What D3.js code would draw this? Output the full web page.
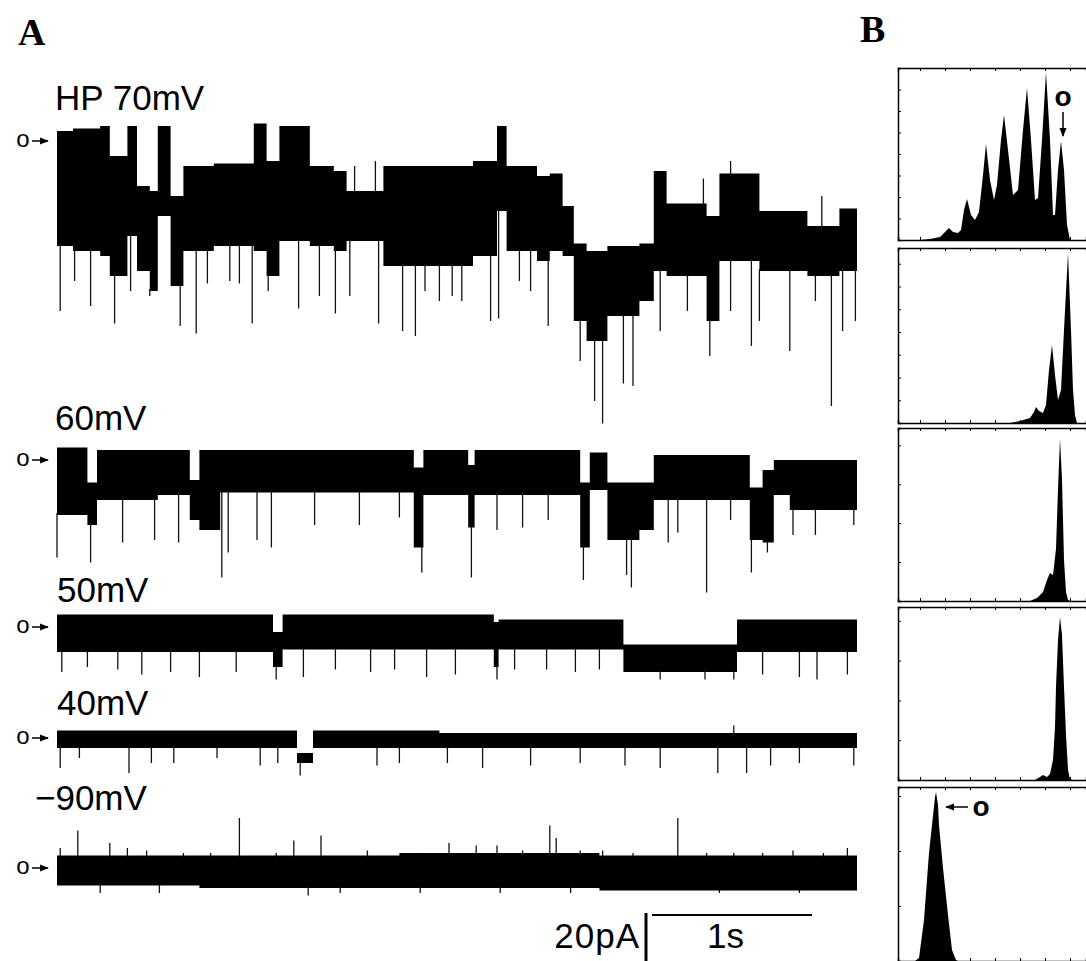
<!DOCTYPE html>
<html>
<head>
<meta charset="utf-8">
<script src="https://cdnjs.cloudflare.com/ajax/libs/d3/7.8.5/d3.min.js"></script>
<style>
  body { margin: 0; background: #fff; }
  .lbl { font-family: "Liberation Sans", Arial, sans-serif; font-size: 35px; }
  .panel { font-family: "Liberation Serif", "Times New Roman", serif; font-weight: bold; font-size: 38px; }
</style>
</head>
<body>
<div class="fig"></div>
<script>
/* Single channel records (A) and amplitude histograms (B) */

// ---- traces: time (s), upper / lower edge of the dense band (pA, 0 = open level "o")
var t70 = [0, 0.10, 0.27, 0.33, 0.44, 0.50, 0.58, 0.63, 0.71, 0.79, 0.98, 1.23, 1.31, 1.39, 1.58, 1.73, 1.81, 2.04, 2.25, 2.60, 2.75, 2.81, 3.00, 3.08, 3.16, 3.23, 3.31, 3.44, 3.64, 3.73, 3.81, 4.06, 4.14, 4.39, 4.69, 4.89, 5.0];
var hi70 = [4, 5, 6, -6, 6, -18, -20, 6, -22, -10, -9, 7, -8, 6, -10, -12, -20, -10, -10, -8, 6, -10, -14, -13, -26, -41, -44, -42, -41, -12, -25, -30, -13, -28, -34, -27, -27];
var lo70 = [-42, -44, -46, -54, -38, -52, -60, -30, -58, -44, -42, -44, -54, -40, -42, -44, -40, -50, -50, -46, -28, -44, -48, -44, -46, -72, -80, -70, -64, -52, -54, -72, -48, -52, -54, -52, -52];
var dn70T = [0.02, 0.11, 0.21, 0.36, 0.46, 0.58, 0.77, 0.87, 0.94, 1.08, 1.14, 1.22, 1.32, 1.51, 1.64, 1.74, 1.83, 2.01, 2.16, 2.24, 2.30, 2.39, 2.47, 2.53, 2.71, 2.76, 2.89, 2.96, 3.07, 3.27, 3.36, 3.41, 3.54, 3.60, 3.77, 3.94, 4.08, 4.21, 4.34, 4.39, 4.58, 4.74, 4.84, 4.91, 4.99];
var dn70V = [-68, -56, -66, -73, -60, -62, -74, -77, -57, -56, -57, -73, -60, -67, -62, -69, -62, -73, -76, -78, -60, -64, -62, -64, -72, -71, -56, -60, -74, -88, -104, -113, -97, -98, -76, -68, -86, -68, -82, -72, -84, -64, -106, -76, -72];
var up70T = [1.86, 1.99, 4.04, 4.21, 4.38, 4.78];
var up70V = [-10, -8, -15, -8, -14, -22];

var t60 = [0, 0.19, 0.25, 0.63, 0.83, 0.89, 1.02, 2.23, 2.29, 2.57, 2.61, 3.27, 3.33, 3.44, 3.64, 3.73, 4.33, 4.41, 4.48, 4.58, 5.0];
var hi60 = [5, -9, 4, 4, -8, 4, 4, -3, 4, -2, 4, -9, 3, -9, -9, 2, -11, -4, 0, 0, 0];
var lo60 = [-22, -26, -16, -14, -24, -28, -13, -35, -14, -27, -14, -35, -12, -32, -28, -16, -32, -33, -14, -20, -20];
var dn60T = [0.0, 0.21, 0.41, 0.61, 0.76, 1.03, 1.07, 1.25, 1.34, 1.61, 1.89, 2.14, 2.28, 2.59, 2.75, 2.91, 3.07, 3.29, 3.56, 3.59, 3.82, 3.88, 4.06, 4.21, 4.34, 4.44, 4.60, 4.74, 4.98];
var dn60V = [-39, -41, -33, -32, -33, -47, -37, -32, -35, -26, -26, -23, -45, -47, -28, -27, -24, -48, -46, -51, -33, -29, -53, -24, -45, -37, -30, -30, -26];

var t50 = [0, 1.35, 1.41, 2.73, 2.76, 3.54, 4.25, 5.0];
var hi50 = [5, -2, 5, 2, 3, -7, 3, 3];
var lo50 = [-10, -16, -9, -16, -9, -18, -10, -10];
var dn50T = [0.03, 0.19, 0.38, 0.53, 0.71, 0.89, 1.12, 1.37, 1.54, 1.74, 1.96, 2.11, 2.31, 2.49, 2.75, 2.86, 3.06, 3.24, 3.39, 3.77, 4.05, 4.23, 4.41, 4.64, 4.75, 4.94];
var dn50V = [-18, -16, -17, -19, -18, -20, -18, -21, -20, -17, -18, -17, -20, -19, -21, -17, -17, -18, -17, -21, -21, -21, -19, -20, -21, -19];

var t40 = [0, 1.5, 1.6, 2.39, 5.0];
var hi40 = [3, -6, 3, 2, 2];
var lo40 = [-4, -10, -4, -4, -4];
var dn40T = [0.02, 0.14, 0.45, 0.59, 0.73, 1.0, 1.27, 1.38, 1.52, 2.0, 2.14, 2.44, 2.66, 2.96, 3.27, 3.55, 3.77, 4.13, 4.31, 4.46, 4.64, 4.98];
var dn40V = [-12, -8, -14, -10, -10, -8, -11, -10, -15, -11, -10, -10, -12, -11, -10, -11, -12, -14, -14, -11, -10, -11];
var up40T = [4.23];
var up40V = [5];

var t90 = [0, 0.89, 2.14, 3.39, 5.0];
var hi90 = [5, 5, 6, 5, 5];
var lo90 = [-7, -8, -8, -9, -9];
var dn90T = [0.27, 0.64, 1.57, 1.77, 2.27, 2.77, 3.21, 4.14, 4.64];
var dn90V = [-10, -10, -11, -10, -10, -10, -10, -10, -10];
var up90T = [0.02, 0.13, 0.33, 0.44, 0.56, 0.79, 0.96, 1.14, 1.37, 1.48, 1.65, 1.94, 2.26, 2.45, 2.62, 2.75, 2.91, 3.08, 3.12, 3.27, 3.41, 3.60, 3.88, 4.06, 4.23, 4.41, 4.6, 4.79, 4.94];
var up90V = [8, 15, 10, 8, 7, 6, 6, 20, 6, 11, 13, 7, 6, 10, 9, 9, 7, 17, 12, 7, 7, 6, 20, 6, 6, 6, 7, 6, 8];

// ---- histograms: amplitude (pA) vs count (% of panel full scale)
var h70A = [-8.8, 0, 4, 8, 10.4, 11.6, 13.2, 15.2, 16.4, 17.6, 18.8, 20.4, 22, 23.6, 25.2, 26.4, 28, 29.6, 30.8, 32.4, 33.6, 35.2, 37.2, 39.2, 41.2, 42.8, 44.4, 46, 47.2, 48.8, 50.4, 52, 53.2, 54, 55.2, 56.4, 57.6, 58.8, 60, 66.4];
var h70C = [0, 0, 0.6, 1.7, 5.2, 7.0, 4.7, 4.1, 5.8, 17.4, 23.8, 14.5, 11.6, 16.3, 37.8, 55.8, 34.9, 23.3, 32.0, 58.1, 72.7, 52.3, 26.2, 29.1, 64.0, 88.4, 58.1, 23.3, 24.4, 58.1, 97.7, 58.1, 14.5, 14.5, 40.7, 57.6, 40.7, 8.7, 0, 0];
var h60A = [-8.8, 36, 40, 44, 45.6, 46.4, 47.6, 49.2, 50.4, 51.6, 52.8, 54, 55.2, 56.4, 57.6, 59.2, 60.4, 61.2, 62, 62.8, 66.4];
var h60C = [0, 0, 1.1, 2.9, 6.3, 9.1, 6.9, 5.7, 10.3, 30.3, 44.6, 27.4, 13.1, 18.9, 53.1, 97.1, 53.1, 18.9, 4.6, 0, 0];
var h50A = [-8.8, 44, 46.8, 49.2, 50.8, 52, 53.2, 54.4, 55.2, 56, 56.8, 57.6, 58.4, 59.2, 60, 66.4];
var h50C = [0, 0, 1.7, 5.2, 12.1, 16.2, 15.0, 30.1, 64.7, 93.6, 70.5, 23.7, 5.2, 0.6, 0, 0];
var h40A = [-8.8, 46, 48, 49.2, 50.8, 52, 53.2, 54, 54.4, 55.2, 56, 56.8, 57.6, 58.4, 59.2, 60, 60.8, 66.4];
var h40C = [0, 0, 1.7, 2.9, 1.7, 3.5, 11.6, 30.6, 53.8, 80.9, 94.2, 83.8, 53.8, 26.0, 5.8, 0.6, 0, 0];
var h90A = [-8.8, -2, -0.4, 1.6, 3.6, 4.8, 6, 6.4, 7.2, 7.6, 9.2, 11.2, 12.8, 14.4, 15.2, 66.4];
var h90C = [0, 0, 1.7, 23.6, 62.1, 78.2, 94.3, 97.1, 89.7, 78.2, 53.4, 26.4, 6.3, 0.6, 0, 0];

var svg = d3.select(".fig").append("svg")
    .attr("width", 1086)
    .attr("height", 961);

svg.append("defs").append("marker")
    .attr("id", "head")
    .attr("viewBox", "0 0 10 10")
    .attr("refX", 9).attr("refY", 5)
    .attr("markerWidth", 6).attr("markerHeight", 6)
    .attr("orient", "auto")
    .append("path").attr("d", "M0,1 L10,5 L0,9 Z").attr("fill", "#000");

svg.append("text").attr("class", "panel").attr("x", 18).attr("y", 45).text("A");
svg.append("text").attr("class", "panel").attr("x", 860).attr("y", 42).text("B");

// time axis shared by the traces
var xT = d3.scaleLinear().domain([0, 5]).range([57, 857]);

var traces = [
    {label: "HP 70mV", lx: 55, ly: 110, base: 141, t: t70, hi: hi70, lo: lo70, dnT: dn70T, dnV: dn70V, upT: up70T, upV: up70V},
    {label: "60mV", lx: 55, ly: 430, base: 460, t: t60, hi: hi60, lo: lo60, dnT: dn60T, dnV: dn60V, upT: [], upV: []},
    {label: "50mV", lx: 57, ly: 602, base: 627, t: t50, hi: hi50, lo: lo50, dnT: dn50T, dnV: dn50V, upT: [], upV: []},
    {label: "40mV", lx: 57, ly: 715, base: 738, t: t40, hi: hi40, lo: lo40, dnT: dn40T, dnV: dn40V, upT: up40T, upV: up40V},
    {label: "\u221290mV", lx: 35, ly: 810, base: 868, t: t90, hi: hi90, lo: lo90, dnT: dn90T, dnV: dn90V, upT: up90T, upV: up90V}
];

traces.forEach(function (tr) {
    // 2.5 px per pA
    var y = d3.scaleLinear().domain([0, 20]).range([tr.base, tr.base - 50]);
    var g = svg.append("g");

    g.append("text").attr("class", "lbl").attr("x", tr.lx).attr("y", tr.ly).text(tr.label);

    // open level marker
    g.append("text")
        .attr("x", 23).attr("y", tr.base + 6)
        .attr("text-anchor", "middle")
        .style("font-family", "Liberation Sans, Arial, sans-serif")
        .style("font-size", "24px")
        .text("o");
    g.append("line")
        .attr("x1", 32).attr("x2", 48)
        .attr("y1", tr.base).attr("y2", tr.base)
        .attr("stroke", "#000").attr("stroke-width", 1.5)
        .attr("marker-end", "url(#head)");

    var pts = tr.t.map(function (t, i) { return {t: t, hi: tr.hi[i], lo: tr.lo[i]}; });
    var area = d3.area()
        .x(function (d) { return xT(d.t); })
        .y0(function (d) { return y(d.lo); })
        .y1(function (d) { return y(d.hi); })
        .curve(d3.curveStepAfter);
    g.append("path").attr("d", area(pts)).attr("fill", "#000");

    function seg(t) {
        return Math.max(0, d3.bisectRight(tr.t, t) - 1);
    }

    g.selectAll("line.dn")
        .data(tr.dnT)
        .enter()
        .append("line")
        .attr("class", "dn")
        .attr("x1", function (t) { return xT(t); })
        .attr("x2", function (t) { return xT(t); })
        .attr("y1", function (t) { return y(tr.lo[seg(t)]) - 2; })
        .attr("y2", function (t, i) { return y(tr.dnV[i]); })
        .attr("stroke", "#111").attr("stroke-width", 1.3);

    g.selectAll("line.up")
        .data(tr.upT)
        .enter()
        .append("line")
        .attr("class", "up")
        .attr("x1", function (t) { return xT(t); })
        .attr("x2", function (t) { return xT(t); })
        .attr("y1", function (t) { return y(tr.hi[seg(t)]) + 2; })
        .attr("y2", function (t, i) { return y(tr.upV[i]); })
        .attr("stroke", "#111").attr("stroke-width", 1.3);
});

// scale bar: 20 pA, 1 s
var sbX = 652, sbY = 915;
svg.append("line")
    .attr("x1", sbX - 6).attr("x2", sbX - 6)
    .attr("y1", sbY - 2).attr("y2", sbY - 2 + 50)
    .attr("stroke", "#000").attr("stroke-width", 3);
svg.append("line")
    .attr("x1", sbX).attr("x2", sbX + (xT(1) - xT(0)))
    .attr("y1", sbY).attr("y2", sbY)
    .attr("stroke", "#000").attr("stroke-width", 2);
svg.append("text").attr("class", "lbl")
    .attr("x", 640).attr("y", 948)
    .attr("text-anchor", "end")
    .style("letter-spacing", "1px")
    .text("20pA");
svg.append("text").attr("class", "lbl")
    .attr("x", 707).attr("y", 948)
    .text("1s");

// ---- histograms
var hx = d3.scaleLinear().domain([-8.8, 66.4]).range([898, 1086]);

var hists = [
    {top: 68, bottom: 240, amp: h70A, cnt: h70C, step: 12.5},
    {top: 248, bottom: 423, amp: h60A, cnt: h60C, step: 13},
    {top: 428, bottom: 601, amp: h50A, cnt: h50C, step: 22.5},
    {top: 607, bottom: 780, amp: h40A, cnt: h40C, step: 23},
    {top: 787, bottom: 961, amp: h90A, cnt: h90C, step: 31.6}
];

hists.forEach(function (h) {
    var hy = d3.scaleLinear().domain([0, 100]).range([h.bottom, h.top]);
    var g = svg.append("g");

    var pts = h.amp.map(function (a, i) { return [a, h.cnt[i]]; });
    var area = d3.area()
        .x(function (d) { return hx(d[0]); })
        .y0(hy(0))
        .y1(function (d) { return hy(d[1]); });
    g.append("path").attr("d", area(pts)).attr("fill", "#000");

    var xTicks = d3.range(0, 61, 10);
    var yTicks = d3.range(h.step, 100, h.step);

    var axB = g.append("g")
        .attr("transform", "translate(0," + h.bottom + ")")
        .call(d3.axisBottom(hx).tickValues(xTicks).tickSize(-3).tickFormat(""));
    var axT = g.append("g")
        .attr("transform", "translate(0," + h.top + ")")
        .call(d3.axisTop(hx).tickValues(xTicks).tickSize(-3).tickFormat(""));
    var axL = g.append("g")
        .attr("transform", "translate(" + hx(-8.8) + ",0)")
        .call(d3.axisLeft(hy).tickValues(yTicks).tickSize(-3).tickFormat(""));
    [axB, axT, axL].forEach(function (ax) {
        ax.select(".domain").attr("stroke-width", 1.5);
        ax.selectAll(".tick line").attr("stroke-width", 1);
    });
});

// open level labels in B
svg.append("text")
    .attr("x", 1063).attr("y", 106)
    .attr("text-anchor", "middle")
    .style("font-family", "Liberation Sans, Arial, sans-serif")
    .style("font-weight", "bold").style("font-size", "28px")
    .text("o");
svg.append("line")
    .attr("x1", 1063).attr("x2", 1063)
    .attr("y1", 112).attr("y2", 136)
    .attr("stroke", "#000").attr("stroke-width", 1.5)
    .attr("marker-end", "url(#head)");
svg.append("text")
    .attr("x", 981).attr("y", 816)
    .attr("text-anchor", "middle")
    .style("font-family", "Liberation Sans, Arial, sans-serif")
    .style("font-weight", "bold").style("font-size", "28px")
    .text("o");
svg.append("line")
    .attr("x1", 968).attr("x2", 946)
    .attr("y1", 807).attr("y2", 807)
    .attr("stroke", "#000").attr("stroke-width", 1.5)
    .attr("marker-end", "url(#head)");
</script>
</body>
</html>
